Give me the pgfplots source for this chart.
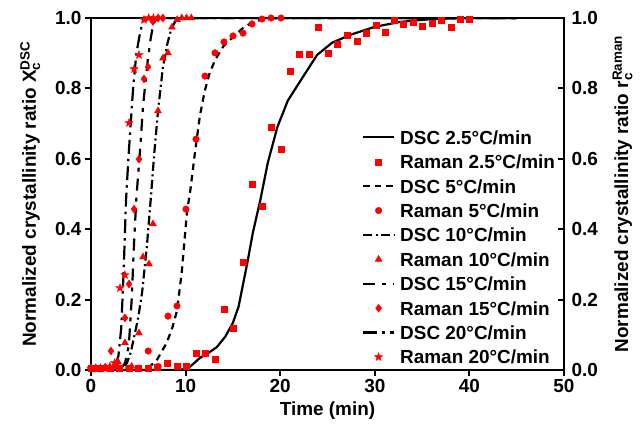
\documentclass[border=0pt]{standalone}
\usepackage{fontspec}
\setmainfont{Liberation Sans}
\usepackage{pgfplots}
\pgfplotsset{compat=1.18}
\newcommand\bigf{\fontsize{19}{22}\selectfont\bfseries}
\newcommand\subf{\fontsize{13.5}{14}\selectfont\bfseries}
% filled five-pointed star
\pgfdeclareplotmark{fstar}{%
  \pgfpathmoveto{\pgfpointpolar{90}{\pgfplotmarksize}}%
  \pgfpathlineto{\pgfpointpolar{126}{0.42\pgfplotmarksize}}%
  \pgfpathlineto{\pgfpointpolar{162}{\pgfplotmarksize}}%
  \pgfpathlineto{\pgfpointpolar{198}{0.42\pgfplotmarksize}}%
  \pgfpathlineto{\pgfpointpolar{234}{\pgfplotmarksize}}%
  \pgfpathlineto{\pgfpointpolar{270}{0.42\pgfplotmarksize}}%
  \pgfpathlineto{\pgfpointpolar{306}{\pgfplotmarksize}}%
  \pgfpathlineto{\pgfpointpolar{342}{0.42\pgfplotmarksize}}%
  \pgfpathlineto{\pgfpointpolar{18}{\pgfplotmarksize}}%
  \pgfpathlineto{\pgfpointpolar{54}{0.42\pgfplotmarksize}}%
  \pgfpathclose
  \pgfusepathqfillstroke}
\pgfplotsset{
  linelegend/.style={legend image code/.code={\draw[##1] (0bp,0bp) -- (31bp,0bp);}},
  marklegend/.style={legend image code/.code={\draw[##1] plot coordinates {(15.5bp,0bp)};}},
  dsc/.style={black, line width=2.2bp, no marks, linelegend},
  raman/.style={red, only marks, mark options={fill=red, draw=red, line width=0.4bp}, marklegend},
  common/.style={
    scale only axis, width=473bp, height=352bp,
    xmin=0, xmax=50, ymin=0, ymax=1,
    xtick={0,10,20,30,40,50}, ytick={0,0.2,0.4,0.6,0.8,1},
    yticklabel style={/pgf/number format/fixed, /pgf/number format/fixed zerofill, /pgf/number format/precision=1},
    /pgf/number format/assume math mode=true,
    tick label style={font=\bigf},
    label style={font=\bigf},
    major tick length=6bp,
    tick style={black, line width=2bp},
    axis line style={line width=2bp},
  },
}
\begin{document}
\begin{tikzpicture}
\begin{axis}[
  common,
  tick pos=left,
  tick align=outside,
  axis on top,
  xlabel={Time (min)},
  xlabel style={yshift=-2bp},
  ylabel={Normalized crystallinity ratio X$_{\mbox{\subf c}}^{\mbox{\subf DSC}}$},
  ylabel style={at={(ticklabel cs:0.5,8bp)}},
  legend style={draw=none, fill=none, inner sep=0pt, outer sep=0pt,
    at={(0.573,0.0175)}, anchor=south west,
    cells={anchor=west}, font=\bigf,
    nodes={inner sep=0pt, text height=13.7bp, text depth=0bp},
    row sep=10.7bp, column sep=5bp},
]
% DSC 2.5
\addplot[dsc] coordinates {(0,0) (9.5,0) (10.5,0.01) (11.5,0.034) (12.5,0.05) (13.3,0.065) (14.2,0.095) (15.0,0.134) (15.6,0.18) (16.1,0.247) (16.6,0.315) (17.1,0.389) (17.9,0.483) (18.7,0.59) (19.7,0.69) (20.8,0.765) (22.1,0.82) (23.9,0.895) (25.5,0.93) (27.4,0.952) (30,0.975) (32.7,0.989) (36,0.997) (40,1) (45,1)};
\addlegendentry{DSC 2.5°C/min}
\addplot[raman, mark=square*, mark size=3bp] coordinates {(0,0.005) (1,0.005) (2,0.005) (3,0.005) (4,0.005) (5,0.005) (6,0.005) (7,0.008) (8.1,0.02) (9.1,0.01) (10.1,0.01) (11.1,0.048) (12.05,0.048) (13.1,0.031) (14.06,0.173) (15.01,0.119) (16.07,0.307) (17.02,0.528) (18.08,0.466) (19.03,0.690) (20.08,0.628) (21.04,0.849) (21.99,0.898) (23.04,0.898) (24.0,0.974) (25.05,0.901) (26.0,0.926) (27.06,0.952) (28.12,0.935) (29.07,0.957) (30.13,0.980) (31.08,0.960) (32.0,0.993) (32.98,0.983) (34.04,0.989) (34.99,0.977) (36.05,0.986) (37.0,0.994) (38.05,0.974) (39.0,0.997) (39.96,0.997)};
\addlegendentry{Raman 2.5°C/min}
% DSC 5
\addplot[dsc, dash pattern=on 6.5bp off 5bp] coordinates {(0,0) (5.5,0) (6.2,0.009) (7,0.03) (8,0.077) (8.6,0.12) (9.1,0.17) (9.6,0.28) (10.15,0.45) (10.5,0.51) (11.0,0.62) (11.5,0.72) (12.0,0.79) (12.5,0.84) (13.1,0.88) (14,0.92) (15,0.946) (16,0.97) (17.1,0.989) (18.5,0.998) (20,1) (45,1)};
\addlegendentry{DSC 5°C/min}
\addplot[raman, mark=*, mark size=3.3bp] coordinates {(0,0.005) (1,0.005) (2,0.005) (3,0.005) (4,0.005) (5,0.005) (6.05,0.054) (7.1,0.01) (8.14,0.153) (9.09,0.182) (10.04,0.457) (11.1,0.656) (12.05,0.835) (13.11,0.901) (14.06,0.932) (15.01,0.949) (16.07,0.957) (17.02,0.983) (18.08,0.997) (19.03,1.0) (20.08,1.0)};
\addlegendentry{Raman 5°C/min}
% DSC 10
\addplot[dsc, dash pattern=on 9bp off 3.5bp on 2bp off 3.5bp] coordinates {(0,0) (3.3,0) (3.8,0.02) (4.2,0.05) (4.65,0.105) (5.0,0.15) (5.4,0.22) (5.9,0.35) (6.3,0.48) (6.7,0.62) (7.1,0.74) (7.6,0.86) (8.1,0.93) (8.5,0.97) (8.9,0.99) (9.5,1) (45,1)};
\addlegendentry{DSC 10°C/min}
\addplot[raman, mark=triangle*, mark size=4bp] coordinates {(0,0.005) (0.5,0.005) (1,0.005) (1.5,0.005) (2,0.005) (2.5,0.01) (2.85,0.023) (3.59,0.077) (4.3,0.01) (5.07,0.105) (5.5,0.321) (6.13,0.301) (6.55,0.415) (7.08,0.736) (7.61,0.886) (8.14,0.901) (8.56,0.974) (9.1,0.995) (9.6,1.0) (10.1,1.0) (10.6,1.0)};
\addlegendentry{Raman 10°C/min}
% DSC 15
\addplot[dsc, dash pattern=on 12bp off 7bp on 4bp off 7bp] coordinates {(0,0) (2.6,0) (3.2,0.005) (3.6,0.02) (4.0,0.07) (4.3,0.2) (4.55,0.36) (4.8,0.49) (5.2,0.63) (5.5,0.75) (6.0,0.88) (6.3,0.94) (6.6,0.985) (7,1) (45,1)};
\addlegendentry{DSC 15°C/min}
\addplot[raman, mark=diamond*, mark size=4bp] coordinates {(0,0.005) (0.5,0.005) (1,0.005) (1.5,0.008) (2.11,0.054) (2.6,0.015) (3.59,0.148) (4.02,0.244) (4.55,0.457) (5.07,0.599) (5.6,0.827) (6.03,0.861) (6.55,0.99) (7.1,1.0) (7.6,1.0)};
\addlegendentry{Raman 15°C/min}
% DSC 20
\addplot[dsc, dash pattern=on 14bp off 5bp on 2.5bp off 5bp] coordinates {(0,0) (2.0,0) (2.5,0.01) (2.9,0.04) (3.2,0.12) (3.45,0.28) (3.7,0.48) (3.95,0.6) (4.2,0.7) (4.45,0.8) (4.8,0.9) (5.2,0.96) (5.5,0.99) (6,1) (45,1)};
\addlegendentry{DSC 20°C/min}
\addplot[raman, mark=fstar, mark size=4.3bp] coordinates {(0,0.005) (0.5,0.005) (1,0.005) (1.5,0.005) (2.0,0.01) (2.5,0.02) (3.07,0.233) (3.59,0.27) (4.02,0.702) (4.55,0.855) (5.07,0.895) (5.6,0.995) (6.1,1.0) (6.6,1.0)};
\addlegendentry{Raman 20°C/min}
\end{axis}
\begin{axis}[
  common,
  tick align=inside,
  axis x line=none, axis y line*=right,
  yticklabel style={xshift=4bp},
  ylabel={Normalized crystallinity ratio r$_{\mbox{\subf c}}^{\mbox{\subf Raman}}$},
  ylabel style={at={(ticklabel cs:0.5,8bp)}},
]
\addplot[draw=none] coordinates {(0,0)};
\end{axis}
\pgfresetboundingbox
\path[use as bounding box] (-91bp,-59bp) rectangle (550bp,370bp);
\end{tikzpicture}
\end{document}
